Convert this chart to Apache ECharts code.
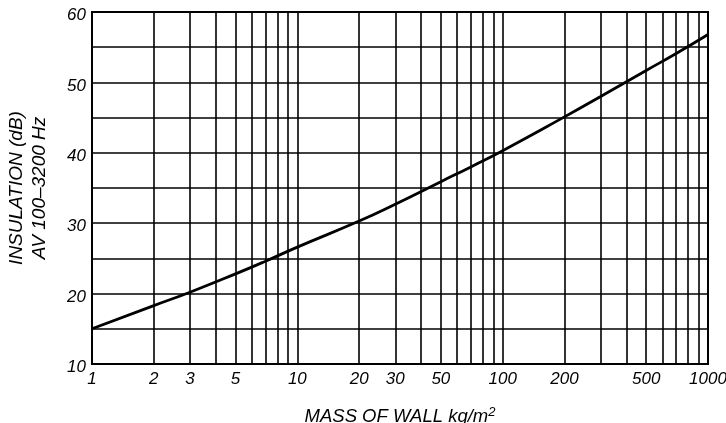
<!DOCTYPE html>
<html>
<head>
<meta charset="utf-8">
<script src="https://cdn.jsdelivr.net/npm/echarts@6/dist/echarts.min.js"></script>
<style>
  html, body { margin: 0; padding: 0; background: #fff; }
  #chart { width: 726px; height: 423px; }
</style>
</head>
<body>
<div id="chart"></div>
<script>
// Wall mass (kg/m²) and average sound insulation (dB, 100–3200 Hz)
const mass = [1, 2, 3, 5, 7, 10, 20, 30, 50, 70, 100, 200, 300, 500, 700, 1000];
const insulation = [15, 18.3, 20.2, 22.8, 24.6, 26.6, 30.3, 32.7, 35.9, 38.0, 40.3, 45.1, 48.0, 51.7, 54.1, 56.8];

// Vertical grid lines: every 1–9 multiple of each decade
const gridMass = [1, 2, 3, 4, 5, 6, 7, 8, 9, 10, 20, 30, 40, 50, 60, 70, 80, 90,
                  100, 200, 300, 400, 500, 600, 700, 800, 900, 1000];
// Labelled mass values
const massLabels = [1, 2, 3, 5, 10, 20, 30, 50, 100, 200, 500, 1000];

const FONT = '"Liberation Sans", Arial, sans-serif';
const chart = echarts.init(document.getElementById('chart'), null, { renderer: 'canvas' });

chart.setOption({
  animation: false,
  backgroundColor: '#fff',
  grid: {
    left: 92, right: 18, top: 12, bottom: 59,
    containLabel: false,
    outerBoundsMode: 'none',
    show: true, borderColor: '#000', borderWidth: 2, backgroundColor: 'transparent'
  },
  xAxis: {
    type: 'log',
    logBase: 10,
    min: 1,
    max: 1000,
    name: 'MASS OF WALL kg/m{sup|2}',
    nameLocation: 'middle',
    nameGap: 42,
    nameTextStyle: {
      fontFamily: FONT, fontStyle: 'italic', fontSize: 18.5, color: '#000',
      rich: { sup: { fontFamily: FONT, fontStyle: 'italic', fontSize: 13, verticalAlign: 'top', padding: [0, 0, 8, 0], color: '#000' } }
    },
    axisLine: { show: false },
    axisTick: { show: false, customValues: gridMass },
    axisLabel: {
      customValues: massLabels,
      formatter: v => String(v),
      fontFamily: FONT, fontStyle: 'italic', fontSize: 17, color: '#000', margin: 7
    },
    splitLine: { show: true, lineStyle: { color: '#000', width: 1.6 } },
    minorTick: { show: false },
    minorSplitLine: { show: false }
  },
  yAxis: {
    type: 'value',
    min: 10,
    max: 60,
    interval: 5,
    name: 'INSULATION (dB)\nAV 100–3200 Hz',
    nameLocation: 'middle',
    nameRotate: 90,
    nameGap: 41,
    nameTextStyle: {
      fontFamily: FONT, fontStyle: 'italic', fontSize: 19, color: '#000', lineHeight: 23
    },
    axisLine: { show: false },
    axisTick: { show: false },
    axisLabel: {
      margin: 6,
      formatter: v => (v % 10 === 0 ? '{n|' + v + '}' : ''),
      rich: {
        n: { fontFamily: FONT, fontStyle: 'italic', fontSize: 17, color: '#000', padding: [7, 0, 0, 0] }
      }
    },
    splitLine: { show: true, lineStyle: { color: '#000', width: 1.6 } }
  },
  series: [{
    type: 'line',
    data: mass.map((m, i) => [m, insulation[i]]),
    smooth: 0.5,
    showSymbol: false,
    symbol: 'none',
    lineStyle: { color: '#000', width: 2.8 },
    z: 5
  }]
});
</script>
</body>
</html>
